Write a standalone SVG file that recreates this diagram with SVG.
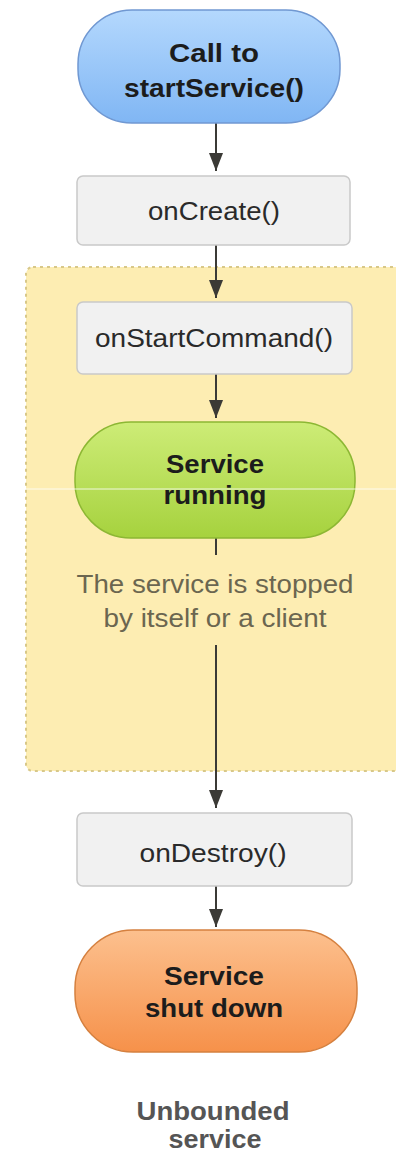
<svg xmlns="http://www.w3.org/2000/svg" width="396" height="1154" viewBox="0 0 396 1154">
<defs>
<linearGradient id="gBlue" x1="0" y1="0" x2="0" y2="1"><stop offset="0" stop-color="#b4d8fd"/><stop offset="1" stop-color="#80b6f4"/></linearGradient>
<linearGradient id="gGreen" x1="0" y1="0" x2="0" y2="1"><stop offset="0" stop-color="#cdec77"/><stop offset="1" stop-color="#a6d23e"/></linearGradient>
<linearGradient id="gOrange" x1="0" y1="0" x2="0" y2="1"><stop offset="0" stop-color="#fcc08e"/><stop offset="1" stop-color="#f6914a"/></linearGradient>
<marker id="arr" markerWidth="18" markerHeight="14" refX="18" refY="7" orient="auto" markerUnits="userSpaceOnUse" viewBox="0 0 18 14">
<path d="M0,0 L18,7 L0,14 Z" fill="#3b3a36"/>
</marker>
</defs>
<style>
.box{fill:#f1f1f1;stroke:#c9c9c9;stroke-width:1.5}
.lbl{font-family:"Liberation Sans",Arial,sans-serif;font-size:25px;fill:#2a2a2a;text-anchor:middle}
.b{font-weight:bold;fill:#1c1c1c}
.note{fill:#6b6650}
.cap{font-weight:bold;fill:#555}
.con{stroke:#3b3a36;stroke-width:2;fill:none}
</style>
<rect width="396" height="1154" fill="#ffffff"/>
<g id="region">
<rect x="26" y="267" width="380" height="504" rx="7" fill="#fdedb2" stroke="#d8c889" stroke-width="2" stroke-dasharray="3,4"/>
</g>
<g id="connectors">
<line class="con" x1="216" y1="123" x2="216" y2="171" marker-end="url(#arr)"/>
<line class="con" x1="216" y1="245" x2="216" y2="298" marker-end="url(#arr)"/>
<line class="con" x1="216" y1="374" x2="216" y2="418" marker-end="url(#arr)"/>
<line class="con" x1="216" y1="538" x2="216" y2="555"/>
<line class="con" x1="216" y1="645" x2="216" y2="808" marker-end="url(#arr)"/>
<line class="con" x1="216" y1="886" x2="216" y2="927" marker-end="url(#arr)"/>
</g>
<g id="start">
<rect x="78" y="10" width="262" height="113" rx="54" fill="url(#gBlue)" stroke="#7098d2" stroke-width="1.5"/>
<text class="lbl b" x="214" y="62" textLength="90" lengthAdjust="spacingAndGlyphs">Call to</text>
<text class="lbl b" x="214" y="97" textLength="180" lengthAdjust="spacingAndGlyphs">startService()</text>
</g>
<g id="onCreate">
<rect class="box" x="77" y="176" width="273" height="69" rx="6"/>
<text class="lbl" x="214" y="220" textLength="132" lengthAdjust="spacingAndGlyphs">onCreate()</text>
</g>
<g id="onStartCommand">
<rect class="box" x="77" y="302" width="275" height="72" rx="6"/>
<text class="lbl" x="214" y="347" textLength="238" lengthAdjust="spacingAndGlyphs">onStartCommand()</text>
</g>
<g id="running">
<rect x="75" y="422" width="280" height="116" rx="56" fill="url(#gGreen)" stroke="#8cb733" stroke-width="1.5"/>
<text class="lbl b" x="215" y="473" textLength="98" lengthAdjust="spacingAndGlyphs">Service</text>
<text class="lbl b" x="215" y="504" textLength="103" lengthAdjust="spacingAndGlyphs">running</text>
</g>
<g id="stopNote">
<text class="lbl note" x="215" y="593" textLength="277" lengthAdjust="spacingAndGlyphs">The service is stopped</text>
<text class="lbl note" x="215" y="627" textLength="223" lengthAdjust="spacingAndGlyphs">by itself or a client</text>
</g>
<g id="onDestroy">
<rect class="box" x="77" y="813" width="275" height="73" rx="6"/>
<text class="lbl" x="213" y="862" textLength="147" lengthAdjust="spacingAndGlyphs">onDestroy()</text>
</g>
<g id="shutdown">
<rect x="75" y="930" width="282" height="122" rx="58" fill="url(#gOrange)" stroke="#d5803f" stroke-width="1.5"/>
<text class="lbl b" x="214" y="985" textLength="100" lengthAdjust="spacingAndGlyphs">Service</text>
<text class="lbl b" x="214" y="1017" textLength="138" lengthAdjust="spacingAndGlyphs">shut down</text>
</g>
<g id="caption">
<text class="lbl cap" x="213" y="1120" textLength="153" lengthAdjust="spacingAndGlyphs">Unbounded</text>
<text class="lbl cap" x="215" y="1148" textLength="93" lengthAdjust="spacingAndGlyphs">service</text>
</g>
<line x1="0" y1="489" x2="396" y2="489" stroke="#ffffff" stroke-width="1" opacity="0.8"/>
</svg>
